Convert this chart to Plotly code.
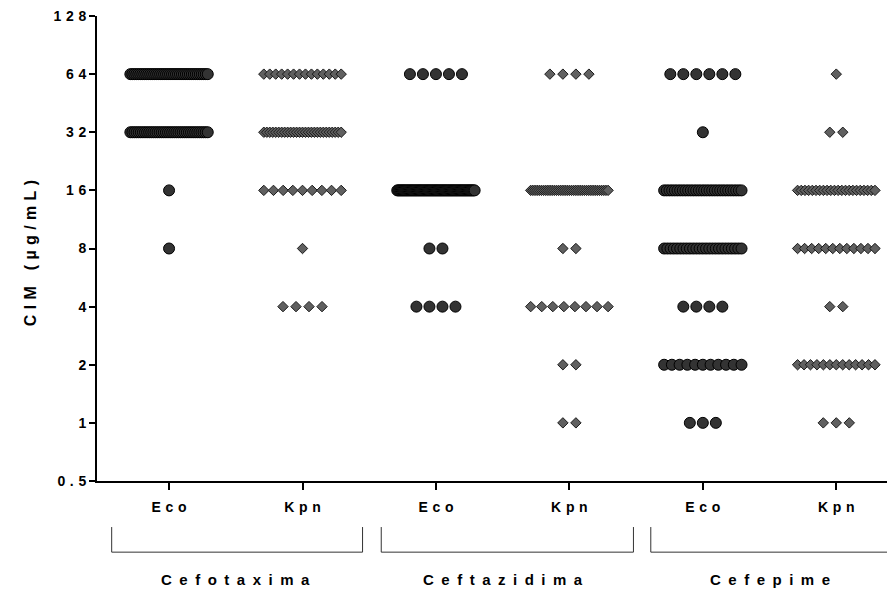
import numpy as np
import plotly.graph_objects as go

# ---- data (number of isolates at each MIC value) ----
mic_levels = [64, 32, 16, 8, 4, 2, 1]
categories = ["Eco", "Kpn", "Eco", "Kpn", "Eco", "Kpn"]
groups = ["Cefotaxima", "Ceftazidima", "Cefepime"]

cefotaxima_eco = [40, 38, 1, 1, 0, 0, 0]
cefotaxima_kpn = [14, 27, 9, 1, 4, 0, 0]
ceftazidima_eco = [5, 0, 69, 2, 4, 0, 0]
ceftazidima_kpn = [4, 0, 37, 2, 8, 2, 2]
cefepime_eco = [6, 1, 30, 25, 4, 11, 3]
cefepime_kpn = [1, 2, 22, 12, 2, 13, 3]

series_counts = [cefotaxima_eco, cefotaxima_kpn, ceftazidima_eco,
                 ceftazidima_kpn, cefepime_eco, cefepime_kpn]

y_ticks = [0.5, 1, 2, 4, 8, 16, 32, 64, 128]
y_tick_labels = ["0.5", "1", "2", "4", "8", "16", "32", "64", "128"]

SP_TICK = "\u2004"   # three-per-em space (letter spacing)
SP_GROUP = "\u2002"  # en space


def spaced(s, sp=SP_TICK):
    return sp.join(list(s))


# ---- layout constants ----
W, H = 887, 584          # page body has an 8px margin
ML, MR, MT, MB = 89, 0, 8, 111
X_MIN, X_MAX = -0.54, 5.44
STEP = 0.0975      # natural spacing between dots (category units)
MAX_SPAN = 0.58    # maximum row spread
FAM = "Liberation Sans, Arial, sans-serif"

fig = go.Figure()

for ci, counts in enumerate(series_counts):
    xs, ys = [], []
    for mic, n in zip(mic_levels, counts):
        if n <= 0:
            continue
        step = STEP if n == 1 else min(STEP, MAX_SPAN / (n - 1))
        offs = (np.arange(n) - (n - 1) / 2) * step
        xs.extend(ci + offs)
        ys.extend([mic] * n)
    is_eco = categories[ci] == "Eco"
    fig.add_trace(go.Scatter(
        x=xs, y=ys, mode="markers", showlegend=False,
        marker=dict(
            symbol="circle" if is_eco else "diamond",
            size=11 if is_eco else 8,
            color="#333333" if is_eco else "#606060",
            line=dict(color="#000000" if is_eco else "#1a1a1a", width=1),
        ),
        cliponaxis=False,
    ))

font_tick = dict(family=FAM, size=14, color="#000000", weight="bold")

fig.update_layout(
    width=W, height=H,
    margin=dict(l=ML, r=MR, t=MT, b=MB, autoexpand=False),
    plot_bgcolor="white", paper_bgcolor="white",
    font=font_tick,
    xaxis=dict(
        range=[X_MIN, X_MAX],
        tickmode="array",
        tickvals=list(range(len(categories))),
        ticktext=[spaced(c) for c in categories],
        showgrid=False, zeroline=False,
        showline=True, linecolor="black", linewidth=2,
        ticks="outside", ticklen=7, tickwidth=2, tickcolor="black",
        tickfont=font_tick,
        ticklabelstandoff=5,
        ticklabeloverflow="allow",
    ),
    yaxis=dict(
        type="log",
        range=[np.log10(0.5), np.log10(128)],
        tickmode="array",
        tickvals=y_ticks,
        ticktext=[spaced(t) for t in y_tick_labels],
        showgrid=False, zeroline=False,
        showline=True, linecolor="black", linewidth=2,
        ticks="outside", ticklen=6, tickwidth=2, tickcolor="black",
        tickfont=font_tick,
        ticklabeloverflow="allow",
    ),
)

plot_w = W - ML - MR

# y-axis title
fig.add_annotation(
    x=(22 - ML) / plot_w, y=0.49, xref="paper", yref="paper",
    text=spaced("CIM") + "\u2003" + spaced("(µg/mL)"),
    textangle=-90, showarrow=False, xanchor="center", yanchor="middle",
    font=dict(family=FAM, size=16, color="black", weight="bold"),
)


def to_paper(xv):
    return (xv - X_MIN) / (X_MAX - X_MIN)


# group brackets and labels
bracket_spans = [(-0.43, 1.45), (1.59, 3.48), (3.61, 5.6)]
for gi, (g, (a, b)) in enumerate(zip(groups, bracket_spans)):
    x0, x1 = to_paper(a), to_paper(b)
    yt, yb = -0.099, -0.153
    path = f"M {x0},{yt} L {x0},{yb} L {x1},{yb} L {x1},{yt}"
    fig.add_shape(type="path", path=path, xref="paper", yref="paper",
                  line=dict(color="#333333", width=1))
    center = to_paper(2 * gi + 0.5)
    fig.add_annotation(x=center, y=-0.211, xref="paper", yref="paper",
                       text=spaced(g, SP_GROUP), showarrow=False,
                       font=dict(family=FAM, size=15, color="black",
                                 weight="bold"),
                       xanchor="center", yanchor="middle")

fig.write_html("out.html")
